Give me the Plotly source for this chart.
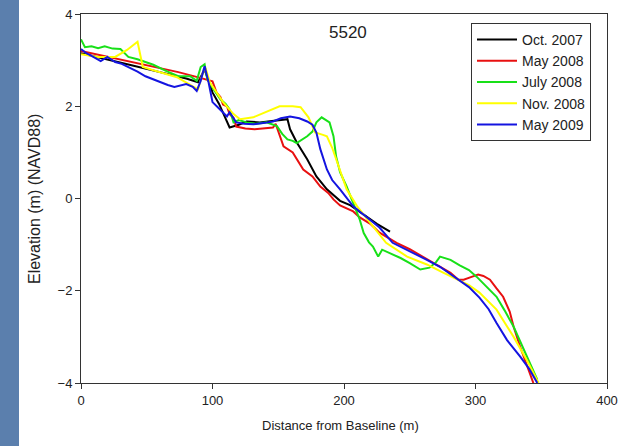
import plotly.graph_objects as go

# ---- data (distance m, elevation m NAVD88) ----
x_oct07 = [0, 20, 40, 60, 80, 89, 94, 97, 100, 105, 108, 111, 113, 120, 126, 136, 150, 157, 159, 164, 172, 179, 187, 197, 205, 215, 225, 235]
y_oct07 = [3.15, 3.02, 2.88, 2.74, 2.6, 2.52, 2.8, 2.55, 2.3, 2.05, 1.85, 1.65, 1.54, 1.6, 1.67, 1.65, 1.7, 1.72, 1.5, 1.22, 0.85, 0.48, 0.2, -0.05, -0.15, -0.35, -0.55, -0.72]

x_may08 = [0, 20, 40, 60, 74, 90, 100, 103, 106, 108, 111, 113, 116, 118, 125, 132, 140, 146, 148, 154, 161, 169, 176, 182, 188, 192, 197, 207, 212, 220, 227, 240, 250, 260, 270, 281, 287, 291, 297, 302, 306, 311, 316, 321, 326, 329, 334, 339, 344]
y_may08 = [3.2, 3.08, 2.96, 2.84, 2.74, 2.62, 2.54, 2.3, 2.2, 2.04, 2.0, 1.83, 1.75, 1.56, 1.52, 1.5, 1.52, 1.54, 1.62, 1.13, 1.0, 0.63, 0.48, 0.26, 0.12, -0.02, -0.15, -0.28, -0.41, -0.55, -0.74, -0.96, -1.1, -1.26, -1.42, -1.61, -1.76, -1.76, -1.7, -1.65, -1.68, -1.76, -1.95, -2.13, -2.45, -2.78, -3.22, -3.6, -4.0]

x_jul08 = [0, 3, 8, 13, 18, 24, 30, 36, 43, 55, 65, 74, 83, 88, 91, 94, 96, 100, 106, 110, 113, 116, 120, 126, 133, 141, 149, 153, 157, 161, 164, 168, 172, 176, 179, 183, 186, 189, 192, 194, 197, 202, 208, 212, 215, 219, 222, 226, 229, 235, 243, 250, 258, 265, 270, 273, 277, 281, 288, 295, 301, 308, 316, 322, 329, 334, 339, 343, 347]
y_jul08 = [3.45, 3.28, 3.3, 3.26, 3.3, 3.25, 3.24, 3.07, 3.02, 2.9, 2.76, 2.65, 2.65, 2.55, 2.85, 2.91, 2.59, 2.4, 2.15, 2.05, 1.93, 1.65, 1.7, 1.65, 1.62, 1.65, 1.57, 1.4, 1.28, 1.25, 1.2, 1.27, 1.35, 1.45, 1.65, 1.76, 1.7, 1.65, 1.35, 0.91, 0.57, 0.26, -0.17, -0.46, -0.75, -0.95, -1.04, -1.26, -1.11, -1.18, -1.29, -1.4, -1.54, -1.5, -1.38, -1.26, -1.3, -1.33, -1.45, -1.55, -1.7, -1.9, -2.13, -2.42, -2.78, -3.1, -3.43, -3.68, -3.93]

x_nov08 = [0, 8, 13, 26, 35, 43, 47, 55, 65, 73, 85, 89, 93, 95, 98, 103, 108, 116, 121, 131, 146, 151, 161, 167, 173, 178, 184, 187, 191, 195, 202, 210, 222, 232, 248, 263, 275, 286, 295, 303, 316, 329, 339, 348]
y_nov08 = [3.13, 3.1, 3.07, 3.07, 3.22, 3.4, 2.85, 2.78, 2.7, 2.63, 2.43, 2.37, 2.76, 2.8, 2.52, 2.3, 2.09, 1.83, 1.72, 1.76, 1.93, 2.0, 2.0, 1.98, 1.76, 1.43, 1.38, 1.35, 1.1, 0.78, 0.2, -0.17, -0.6, -0.96, -1.26, -1.43, -1.6, -1.76, -1.88, -2.04, -2.41, -3.0, -3.5, -4.0]

x_may09 = [0, 4, 8, 12, 15, 20, 26, 31, 36, 43, 49, 55, 61, 66, 71, 76, 80, 85, 88, 91, 94, 97, 100, 104, 108, 111, 113, 118, 124, 131, 140, 146, 152, 159, 166, 172, 176, 179, 182, 187, 191, 197, 207, 217, 227, 237, 248, 263, 273, 286, 295, 303, 310, 316, 324, 334, 341, 347]
y_may09 = [3.24, 3.15, 3.09, 3.02, 2.98, 3.07, 2.96, 2.92, 2.85, 2.75, 2.65, 2.58, 2.52, 2.46, 2.42, 2.45, 2.48, 2.42, 2.33, 2.55, 2.87, 2.52, 2.09, 1.98, 1.87, 1.78, 1.87, 1.65, 1.62, 1.61, 1.64, 1.67, 1.74, 1.78, 1.74, 1.67, 1.6, 1.43, 1.07, 0.63, 0.4, 0.2, -0.17, -0.39, -0.63, -0.96, -1.11, -1.33, -1.48, -1.74, -1.92, -2.15, -2.4, -2.7, -3.07, -3.43, -3.7, -4.0]

series = [
    ("Oct. 2007", x_oct07, y_oct07, "#000000"),
    ("May 2008", x_may08, y_may08, "#e81010"),
    ("July 2008", x_jul08, y_jul08, "#18e018"),
    ("Nov. 2008", x_nov08, y_nov08, "#ffff00"),
    ("May 2009", x_may09, y_may09, "#1414e0"),
]

fig = go.Figure()
for name, xs, ys, col in series:
    fig.add_trace(go.Scatter(x=xs, y=ys, mode="lines", name=name,
                             line=dict(color=col, width=2)))

W, H = 633, 446
L, R, T, B = 81, 26, 14, 63
pw, ph = W - L - R, H - T - B

font = dict(family="Liberation Sans, Arial, sans-serif", color="#222222")

fig.update_layout(
    width=W, height=H,
    margin=dict(l=L, r=R, t=T, b=B, pad=0, autoexpand=False),
    paper_bgcolor="white", plot_bgcolor="white",
    font=dict(size=13, **font),
    showlegend=True,
    legend=dict(x=(471 - L) / pw, y=1 - (23 - T) / ph, xanchor="left", yanchor="top",
                bordercolor="#333333", borderwidth=1, bgcolor="white", itemwidth=40,
                font=dict(size=14, **font), tracegroupgap=0),
    xaxis=dict(range=[0, 400], tickvals=[0, 100, 200, 300, 400], ticks="outside",
               ticklen=5, tickcolor="#333333", showline=True, linecolor="#333333",
               linewidth=1, mirror=True, showgrid=False, zeroline=False, automargin=False,
               tickfont=dict(size=13, **font)),
    yaxis=dict(range=[-4, 4], tickvals=[-4, -2, 0, 2, 4], ticks="outside",
               ticklen=5, tickcolor="#333333", showline=True, linecolor="#333333",
               linewidth=1, mirror=True, showgrid=False, zeroline=False, automargin=False,
               tickfont=dict(size=13, **font)),
    shapes=[dict(type="rect", xref="paper", yref="paper",
                 x0=(0 - L) / pw, x1=(19 - L) / pw,
                 y0=-B / ph - 0.01, y1=1 + T / ph + 0.01,
                 fillcolor="#5b7fad", line=dict(width=0), layer="below")],
    annotations=[
        dict(text="5520", xref="paper", yref="paper", x=(348 - L) / pw, y=1 - (33 - T) / ph,
             showarrow=False, font=dict(size=17, **font), xanchor="center", yanchor="middle"),
        dict(text="Distance from Baseline (m)", xref="paper", yref="paper",
             x=(340 - L) / pw, y=-(425 - T - ph) / ph, showarrow=False,
             font=dict(size=13, **font), xanchor="center", yanchor="middle"),
        dict(text="Elevation (m) (NAVD88)", xref="paper", yref="paper",
             x=(35 - L) / pw, y=1 - (199 - T) / ph, showarrow=False, textangle=-90,
             font=dict(size=16, **font), xanchor="center", yanchor="middle"),
    ],
)

fig.write_html("out.html")
